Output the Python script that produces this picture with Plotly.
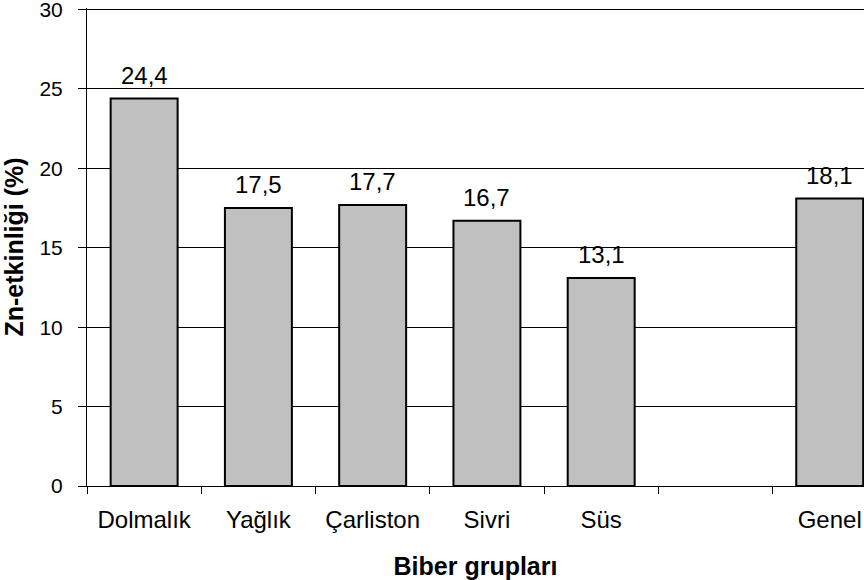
import plotly.graph_objects as go

categories = ["Dolmalık", "Yağlık", "Çarliston", "Sivri", "Süs", "Genel"]
values = [24.4, 17.5, 17.7, 16.7, 13.1, 18.1]
axis_order = ["Dolmalık", "Yağlık", "Çarliston", "Sivri", "Süs", " ", "Genel"]
y_ticks = [0, 5, 10, 15, 20, 25, 30]

FONT = "Liberation Sans, Arial, sans-serif"

fig = go.Figure()
fig.add_trace(go.Bar(
    x=categories, y=values, width=0.586,
    marker=dict(color="#C0C0C0", line=dict(color="black", width=2)),
    showlegend=False, hoverinfo="skip",
))

for c, v in zip(categories, values):
    fig.add_annotation(
        x=c, y=v, text=f"{v:.1f}".replace(".", ","),
        showarrow=False, yanchor="bottom", yshift=8,
        font=dict(family=FONT, size=24, color="black"),
    )

fig.update_layout(
    width=864, height=580,
    margin=dict(l=87, r=0, t=8, b=94, autoexpand=False),
    paper_bgcolor="white", plot_bgcolor="white",
    font=dict(family=FONT, size=24, color="black"),
)
fig.update_xaxes(
    type="category", categoryorder="array", categoryarray=axis_order,
    range=[-0.5, 6.3], tickson="boundaries",
    ticks="outside", ticklen=7, tickcolor="black", tickwidth=1,
    showline=True, linecolor="black", linewidth=1,
    showgrid=False, zeroline=False,
    tickfont=dict(family=FONT, size=24, color="black"),
    ticklabelstandoff=12,
    title=dict(text="<b>Biber grupları</b>", font=dict(family=FONT, size=25, color="black"), standoff=26),
)
fig.update_yaxes(
    range=[0, 30.1], tickvals=y_ticks, tickmode="array",
    ticklabeloverflow="allow",
    ticks="outside", ticklen=8, tickcolor="black", tickwidth=1,
    showline=True, linecolor="black", linewidth=1,
    showgrid=True, gridcolor="black", gridwidth=1,
    zeroline=False,
    tickfont=dict(family=FONT, size=21, color="black"),
    ticklabelstandoff=11,
    title=dict(text="<b>Zn-etkinliği (%)</b>", font=dict(family=FONT, size=25, color="black"), standoff=14),
)

fig.write_html("out.html")
